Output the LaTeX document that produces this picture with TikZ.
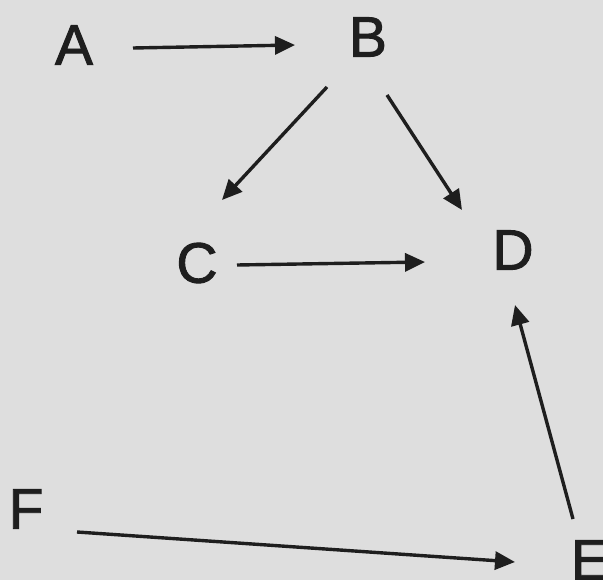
\documentclass[tikz,border=0pt]{standalone}
\usepackage{fontspec}
\setmainfont{Liberation Sans}
\newfontfamily\letterfont{Liberation Sans}[RawFeature={embolden=1.6}]
\usetikzlibrary{arrows.meta,calc}
\definecolor{paper}{HTML}{DEDEDE}
\definecolor{ink}{HTML}{1E1E1E}
\tikzset{
  letter/.style={text=ink, inner sep=0pt, font=\letterfont\fontsize{57}{64}\selectfont},
  arr/.style={draw=ink, line width=3.4pt, -{Triangle[length=20pt,width=18pt]}}
}
\begin{document}
\begin{tikzpicture}[x=1pt,y=-1pt]
  \fill[paper] (0,0) rectangle (603,580);
  \useasboundingbox (0,0) rectangle (603,580);
  \node[letter] (A) at (74,45) {A};
  \node[letter] (B) at (368,37) {B};
  \node[letter] (C) at (197,263) {C};
  \node[letter] (D) at (513,250) {D};
  \node[letter] (E) at (590,560) {E};
  \node[letter] (F) at (26,509) {F};
  \draw[arr] ($(A)+(59,3)$) -- ($(B)+(-73,8)$);
  \draw[arr] ($(B)+(-41,50)$) -- ($(C)+(25,-63)$);
  \draw[arr] ($(B)+(19,58)$) -- ($(D)+(-51,-40)$);
  \draw[arr] ($(C)+(40,2)$) -- ($(D)+(-88,12)$);
  \draw[arr] ($(E)+(-17,-41)$) -- ($(D)+(2,55)$);
  \draw[arr] ($(F)+(51,23)$) -- ($(E)+(-75,2)$);
\end{tikzpicture}
\end{document}
